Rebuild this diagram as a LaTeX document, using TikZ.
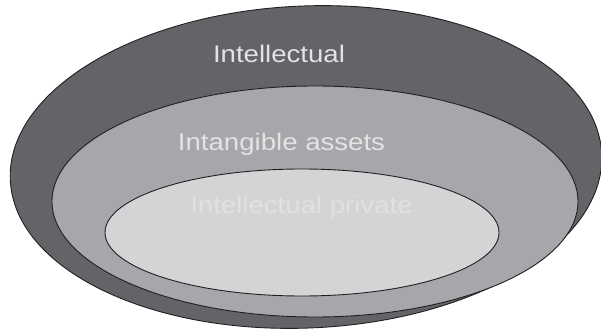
\documentclass[tikz,border=0pt]{standalone}
\usepackage{fontspec}
\setmainfont{Liberation Sans}
\usetikzlibrary{positioning, shapes.geometric}

\definecolor{setdark}{HTML}{636468}
\definecolor{setmid}{HTML}{A6A7AA}
\definecolor{setlight}{HTML}{D3D4D6}
\definecolor{setline}{HTML}{231F20}
\definecolor{privtext}{HTML}{E0E1E2}

\begin{document}
\begin{tikzpicture}[
  x=1bp, y=1bp,
  set/.style={ellipse, draw=setline, line width=0.45bp, inner sep=0pt, outer sep=0pt},
  outerset/.style={set, fill=setdark, minimum width=296bp, minimum height=161bp, rotate=2.5},
  midset/.style={set, fill=setmid, minimum width=263bp, minimum height=115.5bp},
  innerset/.style={set, fill=setlight, minimum width=197bp, minimum height=63.5bp},
  setlabel/.style={anchor=base, inner sep=0pt, xscale=1.15, font=\fontsize{12bp}{14bp}\selectfont},
]
\useasboundingbox (0,0) rectangle (300.5,165.5);

%%% Sets
\node[outerset] (intellectual) at (153,82) {};
\node[midset] (intangible) at (157.5,64.75) {};
\node[innerset] (private) at (151,49.25) {};

%%% Labels
\node[setlabel, text=black!11] (intellectualtxt) at (139.5,134.5) {Intellectual};
\node[setlabel, text=black!11] (intangibletxt) at (140.75,90.5) {Intangible assets};
\node[setlabel, text=privtext] (privatetxt) at (150.75,59) {Intellectual private};

\end{tikzpicture}
\end{document}
